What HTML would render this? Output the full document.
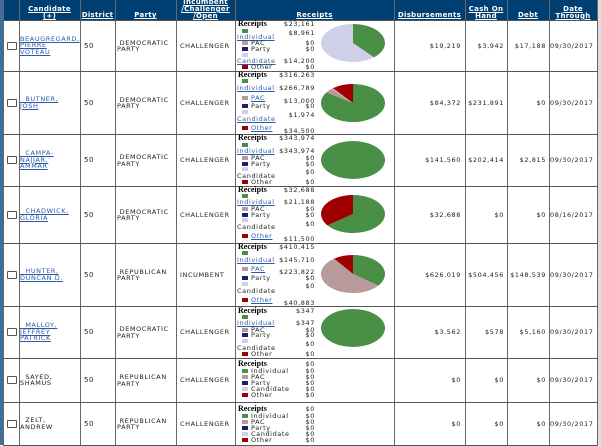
<!DOCTYPE html>
<html><head><meta charset="utf-8">
<style>
body{margin:0;width:601px;height:445px;overflow:hidden;background:#fff;position:relative;font-family:"DejaVu Sans","Liberation Sans",sans-serif;font-size:7px;color:#222;}
.a{position:absolute;white-space:nowrap;line-height:7px;}
.l{position:absolute;background:#555;}
.hd{position:absolute;color:#fff;font-weight:bold;font-size:7px;line-height:7px;text-align:center;text-decoration:underline;letter-spacing:0.3px;}
.lk{color:#2a5aa8;text-decoration:underline;}
.sw{position:absolute;width:6px;height:4px;}
.cb{position:absolute;width:8px;height:6px;border:1px solid #555;background:#fff;border-radius:1px;}
.up{letter-spacing:0.6px;}
.rc{font-family:"Liberation Serif",serif;font-weight:bold;font-size:8px;color:#000;}
</style></head><body>
<div style="position:absolute;left:0;top:0;width:597px;height:20px;background:#003f72"></div>
<div style="position:absolute;left:0;top:0;width:3px;height:445px;background:#3a6fa0"></div>
<div style="position:absolute;left:598px;top:0;width:3px;height:445px;background:#ddd"></div>
<div id="c"></div>
<script>
const c=document.getElementById('c');
function add(h){c.insertAdjacentHTML('beforeend',h);}
const H=[[19,80,'Candidate<br>(+)'],[80,115,'District'],[115,176,'Party'],[176,235,'Incumbent<br>/Challenger<br>/Open'],[235,394,'Receipts'],[394,465,'Disbursements'],[465,507,'Cash On<br>Hand'],[507,549,'Debt'],[549,597,'Date<br>Through']];
H.forEach(h=>{const n=(h[2].match(/<br>/g)||[]).length+1;add(`<div class="hd" style="left:${h[0]}px;width:${h[1]-h[0]}px;top:${19-n*6.7}px">${h[2]}</div>`);});
const V=[3,19,80,115,176,235,394,465,507,549,597];
V.forEach(x=>add(`<div class="l" style="left:${x}px;top:0;width:1px;height:445px;background:#666"></div>`));
const R=[20,71,134,186,243,306,358,402,445];
R.forEach(y=>add(`<div class="l" style="left:3px;top:${y}px;width:595px;height:1px"></div>`));
const rows=[
['BEAUGREGARD,<br>PIERRE<br>VOTEAU','DEMOCRATIC','CHALLENGER','$19,219','$3,942','$17,188','09/30/2017',1],
['&nbsp;&nbsp;BUTNER,<br>JOSH','DEMOCRATIC','CHALLENGER','$84,372','$231,891','$0','09/30/2017',1],
['&nbsp;&nbsp;CAMPA-<br>NAJJAR,<br>AMMAR','DEMOCRATIC','CHALLENGER','$141,560','$202,414','$2,815','09/30/2017',1],
['&nbsp;&nbsp;CHADWICK,<br>GLORIA','DEMOCRATIC','CHALLENGER','$32,688','$0','$0','08/16/2017',1],
['&nbsp;&nbsp;HUNTER,<br>DUNCAN D.','REPUBLICAN','INCUMBENT','$626,019','$504,456','$148,539','09/30/2017',1],
['&nbsp;&nbsp;MALLOY,<br>JEFFREY<br>PATRICK','DEMOCRATIC','CHALLENGER','$3,562','$578','$5,160','09/30/2017',1],
['&nbsp;&nbsp;SAYED,<br>SHAMUS','REPUBLICAN','CHALLENGER','$0','$0','$0','09/30/2017',0],
['&nbsp;&nbsp;ZELT,<br>ANDREW','REPUBLICAN','CHALLENGER','$0','$0','$0','09/30/2017',0]];
rows.forEach((r,i)=>{
 const t=R[i],b=R[i+1],m=(t+b)/2;
 const nl=(r[0].match(/<br>/g)||[]).length+1;
 add(`<div class="cb" style="left:7px;top:${m-4}px"></div>`);
 add(`<div class="a up ${r[7]?'lk':''}" style="left:20px;top:${m-nl*3.25}px;line-height:6.5px;font-size:6.5px;${r[7]?'':'color:#222'}">${r[0]}</div>`);
 add(`<div class="a up" style="left:84px;top:${m-3}px">50</div>`);
 add(`<div class="a up" style="left:117px;top:${m-6}px;line-height:6.5px;font-size:6.5px">&nbsp;${r[1]}<br>PARTY</div>`);
 add(`<div class="a up" style="left:180px;top:${m-3}px;font-size:6.5px">${r[2]}</div>`);
 const vals=[[r[3],461],[r[4],504],[r[5],546]];
 vals.forEach(v=>add(`<div class="a up" style="right:${601-v[1]}px;top:${m-3}px;font-size:6.5px">${v[0]}</div>`));
 add(`<div class="a up" style="left:550px;top:${m-3}px;font-size:6.5px">${r[6]}</div>`);
});
const COL={I:'#4a8f46',P:'#b89a9a',Y:'#1a1f6e',C:'#cfd0e8',O:'#9e0000'};
function leg(d){
 add(`<div class="a rc" style="left:238px;top:${d.r-4}px">Receipts</div>`);
 add(`<div class="a up" style="right:286px;top:${d.r-3}px;font-size:6.5px">${d.rv}</div>`);
 d.items.forEach(it=>{
  const [k,sy,ly,lab,lk,wrap,v,vy]=it;
  add(`<div class="sw" style="left:242px;top:${sy-2}px;background:${COL[k]}"></div>`);
  add(`<div class="a up ${lk?'lk':''}" style="left:${wrap?237:251}px;top:${ly-3}px;font-size:6.5px">${lab}</div>`);
  add(`<div class="a up" style="right:286px;top:${vy-3}px;font-size:6.5px">${v}</div>`);
 });
}
const L=[
{r:24,rv:'$23,161',items:[['I',31,37,'Individual',1,1,'$8,961',33],['P',43,43,'PAC',0,0,'$0',43],['Y',49,49,'Party',0,0,'$0',49],['C',55,61,'Candidate',1,1,'$14,200',61],['O',67,67,'Other',0,0,'$0',67]]},
{r:75,rv:'$316,263',items:[['I',81,88,'Individual',1,1,'$266,789',88],['P',98,98,'PAC',1,0,'$13,000',101],['Y',106,106,'Party',0,0,'$0',106],['C',112,119,'Candidate',1,1,'$1,974',115],['O',128,128,'Other',1,0,'$34,500',131]]},
{r:138,rv:'$343,974',items:[['I',145,151,'Individual',1,1,'$343,974',151],['P',158,158,'PAC',0,0,'$0',158],['Y',164,164,'Party',0,0,'$0',164],['C',169,176,'Candidate',0,1,'$0',172],['O',182,182,'Other',0,0,'$0',182]]},
{r:190,rv:'$32,688',items:[['I',196,202,'Individual',1,1,'$21,188',202],['P',209,209,'PAC',0,0,'$0',209],['Y',215,215,'Party',0,0,'$0',215],['C',220,227,'Candidate',0,1,'$0',224],['O',236,236,'Other',1,0,'$11,500',239]]},
{r:247,rv:'$410,415',items:[['I',253,260,'Individual',1,1,'$145,710',260],['P',269,269,'PAC',1,0,'$223,822',272],['Y',278,278,'Party',0,0,'$0',278],['C',284,291,'Candidate',0,1,'$0',286],['O',300,300,'Other',1,0,'$40,883',303]]},
{r:311,rv:'$347',items:[['I',317,323,'Individual',1,1,'$347',323],['P',330,330,'PAC',0,0,'$0',330],['Y',335,335,'Party',0,0,'$0',335],['C',341,348,'Candidate',0,1,'$0',344],['O',354,354,'Other',0,0,'$0',354]]}];
L.forEach(leg);
[364,409].forEach(y=>{
 const items=[['I',7,'Individual'],['P',13,'PAC'],['Y',19,'Party'],['C',25,'Candidate'],['O',31,'Other']].map(a=>[a[0],y+a[1],y+a[1],a[2],0,0,'$0',y+a[1]]);
 leg({r:y,rv:'$0',items});
});
function pie(cx,cy,sl){
 const rx=32,ry=19;let s='',a=0;
 sl.forEach(([f,col])=>{
  if(f>=0.999){s+=`<ellipse cx="${cx}" cy="${cy}" rx="${rx}" ry="${ry}" fill="${col}"/>`;return;}
  if(f<=0)return;
  const a1=a,a2=a+f*2*Math.PI;a=a2;
  const p=t=>[cx+rx*Math.sin(t),cy-ry*Math.cos(t)];
  const [x1,y1]=p(a1),[x2,y2]=p(a2);
  s+=`<path d="M${cx},${cy}L${x1},${y1}A${rx},${ry} 0 ${f>0.5?1:0} 1 ${x2},${y2}Z" fill="${col}"/>`;
 });
 return s;
}
let svg='<svg width="601" height="445" style="position:absolute;left:0;top:0">';
svg+=pie(353,43,[[0.387,COL.I],[0.613,COL.C]]);
svg+=pie(353,103,[[0.845,COL.I],[0.041,COL.P],[0.006,COL.C],[0.109,COL.O]]);
svg+=pie(353,160,[[1,COL.I]]);
svg+=pie(353,214,[[0.648,COL.I],[0.352,COL.O]]);
svg+=pie(353,274,[[0.355,COL.I],[0.545,COL.P],[0.1,COL.O]]);
svg+=pie(353,328,[[1,COL.I]]);
svg+='</svg>';
add(svg);
</script>
</body></html>
